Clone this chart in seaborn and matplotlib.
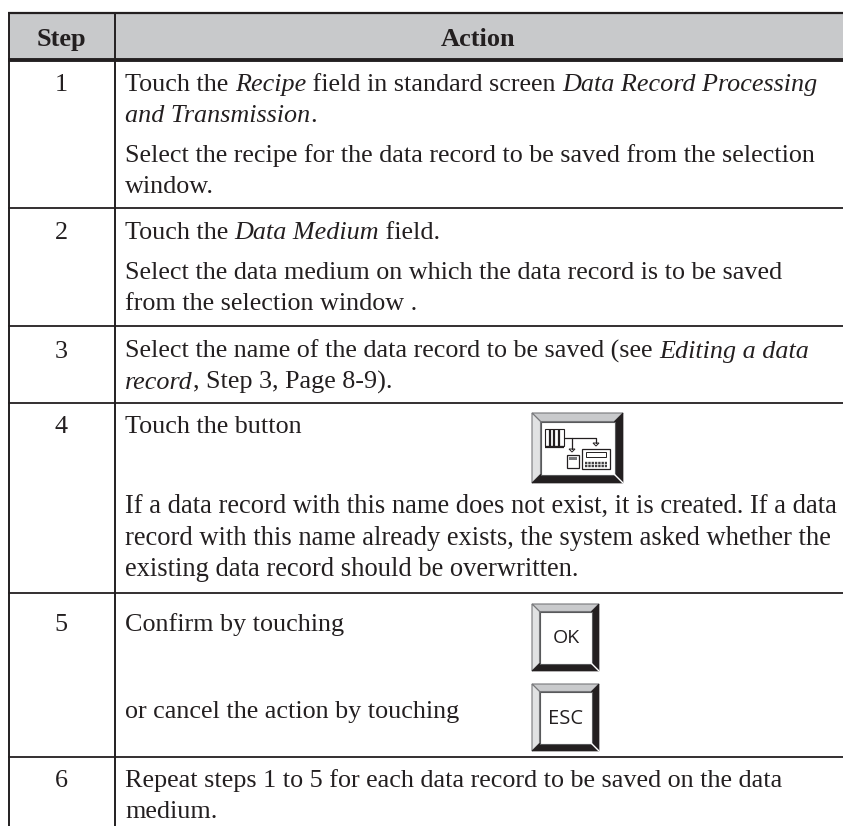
import seaborn as sns
import matplotlib
matplotlib.use("Agg")
import matplotlib.pyplot as plt
from matplotlib.patches import Polygon, Rectangle
import numpy as np

# Table content
headers = ['Step', 'Action']
steps = ['1', '2', '3', '4', '5', '6']
step_baselines = [91, 239, 358, 433, 631, 787]

# each line: baseline, list of (text, italic)
lines = [
    (91, [('Touch the ', 0), ('Recipe', 1), (' field in standard screen ', 0), ('Data Record Processing', 1)]),
    (122, [('and Transmission', 1), ('.', 0)]),
    (162, [('Select the recipe for the data record to be saved from the selection', 0)]),
    (193, [('window.', 0)]),
    (239, [('Touch the ', 0), ('Data Medium', 1), (' field.', 0)]),
    (279, [('Select the data medium on which the data record is to be saved', 0)]),
    (310, [('from the selection window .', 0)]),
    (358, [('Select the name of the data record to be saved (see ', 0), ('Editing a data', 1)]),
    (389, [('record', 1), (', Step 3, Page 8-9).', 0)]),
    (433, [('Touch the button', 0)]),
    (513, [('If a data record with this name does not exist, it is created. If a data', 0)]),
    (545, [('record with this name already exists, the system asked whether the', 0)]),
    (576, [('existing data record should be overwritten.', 0)]),
    (631, [('Confirm by touching', 0)]),
    (718, [('or cancel the action by touching', 0)]),
    (787, [('Repeat steps 1 to 5 for each data record to be saved on the data', 0)]),
    (818, [('medium.', 0)]),
]

INK = '#231f20'
rule_y = [207.5, 326, 403, 592.5, 756.5]
button_boxes = [(532, 413, 623, 483, 8.5), (532, 604, 599, 671, 7.5), (532, 684, 599, 751, 7.5)]
wide_baselines = [513, 545, 576]  # this paragraph is set a little wider

sns.set_theme(style="white")
plt.rcParams['font.family'] = 'Liberation Serif'

fig = plt.figure(figsize=(8.43, 8.26), dpi=100)
ax = fig.add_axes([0, 0, 1, 1])
ax.set_xlim(0, 843)
ax.set_ylim(826, 0)
ax.axis('off')

# header band is a one row heatmap
hax = fig.add_axes([9 / 843, 1 - 60 / 826, 834 / 843, 48 / 826])
sns.heatmap(np.zeros((1, 2)), ax=hax, cbar=False, cmap=['#c8c9cb'], xticklabels=False, yticklabels=False)
hax.set_axis_off()
ax.set_zorder(2)
ax.patch.set_alpha(0)

ax.hlines([12.5], 8, 843, color=INK, lw=1.6)
ax.hlines([60], 8, 843, color=INK, lw=2.8)
ax.hlines(rule_y, 8, 843, color=INK, lw=1.3)
ax.vlines([9, 115], 12, 826, color=INK, lw=1.4)

ax.text(61, 46, headers[0], ha='center', va='baseline', fontsize=19, fontweight='bold', color=INK)
ax.text(478, 46, headers[1], ha='center', va='baseline', fontsize=19, fontweight='bold', color=INK)

FS = 18.8
for s, b in zip(steps, step_baselines):
    ax.text(61, b, s, ha='center', va='baseline', fontsize=FS, color=INK)

fig.canvas.draw()
rend = fig.canvas.get_renderer()
for base, runs in lines:
    x = 125
    size = 19.12 if base in wide_baselines else FS
    for txt, ital in runs:
        style = 'italic' if ital else 'normal'
        ax.text(x, base, txt, va='baseline', ha='left', fontsize=size, color=INK, fontstyle=style)
        # trailing spaces count in the advance via a probe string
        w = ax.text(0, 0, txt.replace(' ', '\u00a0'), fontsize=size, fontstyle=style, alpha=0)
        x += w.get_window_extent(rend).width
        w.remove()


def bevel(x0, y0, x1, y1, d):
    xi0, yi0, xi1, yi1 = x0 + d, y0 + d, x1 - d, y1 - d
    ax.add_patch(Polygon([(x0, y0), (x1, y0), (xi1, yi0), (xi0, yi0)], fc='#c9cacc', ec='#77787b', lw=0.8))
    ax.add_patch(Polygon([(x0, y0), (xi0, yi0), (xi0, yi1), (x0, y1)], fc='#e1e2e3', ec='#77787b', lw=0.8))
    ax.add_patch(Polygon([(x1, y0), (x1, y1), (xi1, yi1), (xi1, yi0)], fc=INK, ec=INK, lw=0.5))
    ax.add_patch(Polygon([(x0, y1), (x1, y1), (xi1, yi1), (xi0, yi1)], fc=INK, ec=INK, lw=0.5))
    ax.plot([xi1, x1], [yi1, y1], color='white', lw=1)
    ax.add_patch(Rectangle((xi0, yi0), xi1 - xi0, yi1 - yi0, fc='white', ec='#58595b', lw=0.8))


for box in button_boxes:
    bevel(*box)

ax.text(566.5, 638, 'OK', ha='center', va='center', family='Open Sans', fontsize=14, color=INK)
ax.text(565.5, 718.5, 'ESC', ha='center', va='center', family='Open Sans', fontsize=14.5, color=INK)

# transfer icon on the big button
ax.add_patch(Rectangle((545, 429), 19, 17, fc='white', ec=INK, lw=0.8))
ax.vlines([549.5, 554, 558.5], 429, 446, color=INK, lw=1.6)
ax.hlines([446.5], 545, 564, color=INK, lw=1.6)
ax.plot([564, 596, 596], [438, 438, 443], color=INK, lw=0.9)
ax.plot([572, 572], [438, 449], color=INK, lw=0.9)
for tx, ty in [(572, 449), (596, 443)]:
    ax.add_patch(Polygon([(tx - 3, ty), (tx + 3, ty), (tx, ty + 3)], fc='white', ec=INK, lw=0.7))
ax.add_patch(Rectangle((567, 455), 12, 13, fc='white', ec=INK, lw=0.9))
ax.add_patch(Rectangle((569, 457), 8, 2.5, fc='#77787b', ec='none'))
ax.add_patch(Rectangle((582, 449), 28, 20, fc='white', ec=INK, lw=0.9))
ax.add_patch(Rectangle((586, 452), 20, 5, fc='white', ec=INK, lw=0.7))
ax.hlines([462.5, 465.5], 585, 607, color='#414042', lw=1.7, linestyles=(0, (1, 0.4)))

plt.savefig('out.png', dpi=100)
